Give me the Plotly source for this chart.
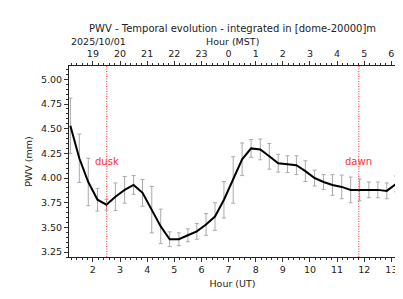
import plotly.graph_objects as go

# ---- data ----
hours_ut = [1.17, 1.50, 1.83, 2.17, 2.50, 2.83, 3.17, 3.50, 3.83, 4.17, 4.50, 4.83,
            5.17, 5.50, 5.83, 6.17, 6.50, 6.83, 7.17, 7.50, 7.83, 8.17, 8.50, 8.83,
            9.17, 9.50, 9.83, 10.17, 10.50, 10.83, 11.17, 11.50, 11.83, 12.17, 12.50,
            12.83, 13.17]
pwv_mean = [4.53, 4.20, 3.96, 3.78, 3.73, 3.81, 3.88, 3.93, 3.85, 3.68, 3.51, 3.38,
            3.38, 3.42, 3.46, 3.53, 3.61, 3.78, 3.98, 4.19, 4.30, 4.29, 4.22, 4.15,
            4.14, 4.13, 4.07, 4.00, 3.96, 3.93, 3.91, 3.88, 3.88, 3.88, 3.88, 3.87,
            3.94]
pwv_std = [0.28, 0.245, 0.24, 0.115, 0.055, 0.14, 0.135, 0.095, 0.135, 0.235, 0.175,
           0.075, 0.065, 0.065, 0.08, 0.11, 0.14, 0.185, 0.235, 0.165, 0.09, 0.105,
           0.13, 0.09, 0.085, 0.095, 0.105, 0.08, 0.075, 0.105, 0.12, 0.13, 0.11,
           0.08, 0.08, 0.08, 0.08]
ut_ticks = [2, 3, 4, 5, 6, 7, 8, 9, 10, 11, 12, 13]
mst_labels = ["19", "20", "21", "22", "23", "0", "1", "2", "3", "4", "5", "6"]
dusk_ut = 2.51
dawn_ut = 11.80
date_label = "2025/10/01"
title_text = "PWV - Temporal evolution - integrated in [dome-20000]m"

FONT = "DejaVu Sans"
TXT = "#222222"
RED = "#ff3030"
XR = [1.12, 13.17]
YR = [3.20, 5.135]

fig = go.Figure()
fig.add_trace(go.Scatter(
    x=hours_ut, y=pwv_mean, mode="lines",
    line=dict(color="black", width=2),
    error_y=dict(type="data", array=pwv_std, visible=True,
                 color="#aaaaaa", thickness=1, width=2),
    showlegend=False, hoverinfo="skip"))
# invisible trace to anchor the top (MST) axis
fig.add_trace(go.Scatter(x=hours_ut, y=pwv_mean, xaxis="x2", mode="lines",
                         line=dict(width=0), opacity=0, showlegend=False,
                         hoverinfo="skip"))

for xv in (dusk_ut, dawn_ut):
    fig.add_shape(type="line", x0=xv, x1=xv, y0=0, y1=1, xref="x", yref="paper",
                  line=dict(color=RED, width=1, dash="1px,1.5px"))
fig.add_annotation(x=dusk_ut, y=4.17, text="dusk", showarrow=False,
                   font=dict(family=FONT, size=10, color=RED))
fig.add_annotation(x=dawn_ut, y=4.17, text="dawn", showarrow=False,
                   font=dict(family=FONT, size=10, color=RED))

fig.add_annotation(x=0.5, y=1, xref="paper", yref="paper", yshift=38,
                   text=title_text, showarrow=False, yanchor="middle",
                   font=dict(family=FONT, size=10, color=TXT))
fig.add_annotation(x=0.5, y=1, xref="paper", yref="paper", yshift=25,
                   text="Hour (MST)", showarrow=False, yanchor="middle",
                   font=dict(family=FONT, size=9.5, color=TXT))
fig.add_annotation(x=0, y=1, xref="paper", yref="paper", yshift=25, xanchor="left",
                   text=date_label, showarrow=False, yanchor="middle",
                   font=dict(family=FONT, size=9.5, color=TXT))

minor = dict(ticks="outside", dtick=0.2, ticklen=2, tickcolor="#333", tickwidth=1)
fig.update_layout(
    width=395, height=291,
    margin=dict(l=61, r=7, t=58, b=42, autoexpand=False),
    paper_bgcolor="white", plot_bgcolor="white",
    font=dict(family=FONT, size=9.5, color=TXT),
    xaxis=dict(range=XR, tickvals=ut_ticks, ticks="outside", ticklen=4,
               tickcolor="#333", showline=True, linecolor="#222", linewidth=1,
               showgrid=False, zeroline=False, minor=minor,
               title=dict(text="Hour (UT)", standoff=5,
                          font=dict(family=FONT, size=9.5, color=TXT))),
    xaxis2=dict(range=XR, overlaying="x", side="top", tickvals=ut_ticks,
                ticktext=mst_labels, ticks="outside", ticklen=4, tickcolor="#333",
                showline=True, linecolor="#222", linewidth=1, showgrid=False,
                zeroline=False, minor=minor),
    yaxis=dict(range=YR, dtick=0.25, tick0=0, tickformat=".2f", ticks="outside",
               ticklen=4, tickcolor="#333", showline=True, mirror=True,
               linecolor="#222", linewidth=1, showgrid=False, zeroline=False,
               minor=dict(ticks="outside", dtick=0.05, ticklen=2, tickcolor="#333"),
               title=dict(text="PWV (mm)", standoff=6,
                          font=dict(family=FONT, size=9.5, color=TXT))),
)
fig.write_html("out.html")
